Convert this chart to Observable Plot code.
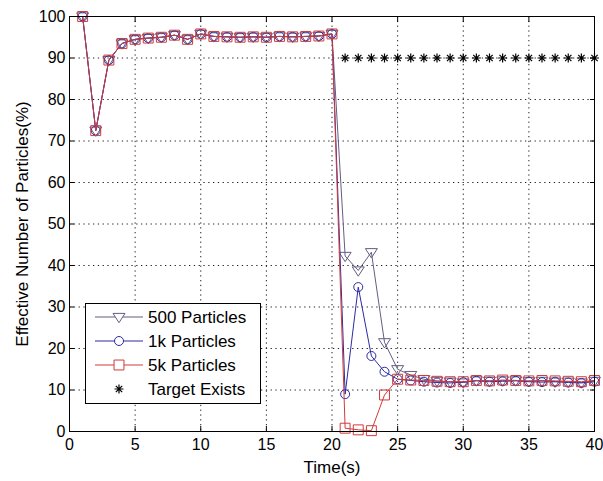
<!DOCTYPE html>
<html>
<head>
<meta charset="utf-8">
<script src="https://cdn.jsdelivr.net/npm/d3@7"></script>
<script src="https://cdn.jsdelivr.net/npm/@observablehq/plot@0.6"></script>
<style>
  html, body { margin: 0; padding: 0; background: #fff; }
  #wrap { position: relative; width: 603px; height: 481px; font-family: "Liberation Sans", Arial, sans-serif; }
  #legend { position: absolute; left: 85px; top: 303px; }
</style>
</head>
<body>
<div id="wrap"></div>
<script>
// ---- data ----
const time = [1,2,3,4,5,6,7,8,9,10,11,12,13,14,15,16,17,18,19,20,
              21,22,23,24,25,26,27,28,29,30,31,32,33,34,35,36,37,38,39,40];
const p500 = [100,72.5,89.5,93.5,94.5,94.8,95,95.5,94.5,95.8,95.2,95.1,95,95.1,95,95.2,95.1,95.2,95.3,95.8,
              42.3,38.8,43.2,21.5,15,13.6,12.6,12.2,12.0,11.8,12.3,12.2,12.3,12.3,12.1,12.2,12.0,12.0,11.8,12.2];
const p1k  = [100,72.5,89.5,93.5,94.5,94.8,95,95.5,94.5,95.8,95.2,95.1,95,95.1,95,95.2,95.1,95.2,95.3,95.8,
              9.0,34.8,18.2,14.4,12.6,12.3,12.0,11.8,11.7,11.9,12.2,12.0,12.1,12.2,12.0,11.9,12.0,11.8,11.7,12.0];
const p5k  = [100,72.5,89.5,93.5,94.5,94.8,95,95.5,94.5,95.8,95.2,95.1,95,95.1,95,95.2,95.1,95.2,95.3,95.8,
              0.8,0.4,0.2,8.8,12.6,12.4,12.3,12.1,12.0,12.0,12.3,12.2,12.4,12.3,12.2,12.3,12.2,12.1,12.0,12.3];
const targetTime = [21,22,23,24,25,26,27,28,29,30,31,32,33,34,35,36,37,38,39,40];
const targetValue = 90;
const seriesNames = ["500 Particles", "1k Particles", "5k Particles", "Target Exists"];
const xTicks = [0,5,10,15,20,25,30,35,40];
const yTicks = [0,10,20,30,40,50,60,70,80,90,100];
const xLabel = "Time(s)";
const yLabel = "Effective Number of Particles(%)";

// ---- styles ----
const c500 = "#655d80", c1k = "#2b2ba6", c5k = "#d23a3a";

const triDown = { draw(ctx, size) { const r = Math.sqrt(size / Math.PI);
  ctx.moveTo(-r, -0.6 * r); ctx.lineTo(r, -0.6 * r); ctx.lineTo(0, 0.95 * r); ctx.closePath(); } };
const star8 = { draw(ctx, size) { const r = Math.sqrt(size / Math.PI);
  for (let k = 0; k < 4; k++) { const a = k * Math.PI / 4;
    ctx.moveTo(-r * Math.cos(a), -r * Math.sin(a)); ctx.lineTo(r * Math.cos(a), r * Math.sin(a)); } } };

const rows = (vals) => time.map((t, i) => ({t, v: vals[i]}));
const d500 = rows(p500), d1k = rows(p1k), d5k = rows(p5k);
const dTarget = targetTime.map(t => ({t, v: targetValue}));

const chart = Plot.plot({
  width: 603, height: 481,
  marginLeft: 69, marginRight: 9, marginTop: 16, marginBottom: 50,
  style: {fontFamily: "'Liberation Sans', Arial, sans-serif", fontSize: "16px", background: "white", color: "black"},
  x: {domain: [0, 40]},
  y: {domain: [0, 100]},
  marks: [
    Plot.gridX(xTicks, {stroke: "#222", strokeOpacity: 1, strokeDasharray: "1.3,3.5"}),
    Plot.gridY(yTicks, {stroke: "#222", strokeOpacity: 1, strokeDasharray: "1.3,3.5"}),
    Plot.line(d500, {x: "t", y: "v", stroke: c500, strokeWidth: 1}),
    Plot.dot(d500, {x: "t", y: "v", symbol: triDown, r: 6, stroke: c500, fill: "none", strokeWidth: 1}),
    Plot.line(d1k, {x: "t", y: "v", stroke: c1k, strokeWidth: 1}),
    Plot.dot(d1k, {x: "t", y: "v", symbol: "circle", r: 4.5, stroke: c1k, fill: "none", strokeWidth: 1}),
    Plot.line(d5k, {x: "t", y: "v", stroke: c5k, strokeWidth: 1}),
    Plot.dot(d5k, {x: "t", y: "v", symbol: "square", r: 5.6, stroke: c5k, fill: "none", strokeWidth: 1}),
    Plot.dot(dTarget, {x: "t", y: "v", symbol: star8, r: 4.5, stroke: "black", strokeWidth: 1.2}),
    Plot.frame({stroke: "black"}),
    Plot.axisX(xTicks, {tickSize: -5, tickPadding: 12, label: null}),
    Plot.axisX(xTicks, {anchor: "top", tickSize: -5, tickFormat: () => "", label: null}),
    Plot.axisY(yTicks, {tickSize: -5, tickPadding: 9, label: null}),
    Plot.axisY(yTicks, {anchor: "right", tickSize: -5, tickFormat: () => "", label: null}),
    Plot.text([xLabel], {text: d => d, frameAnchor: "bottom", lineAnchor: "middle", textAnchor: "middle", dy: 36, fill: "black", fontSize: 17}),
    Plot.text([yLabel], {text: d => d, frameAnchor: "left", lineAnchor: "middle", textAnchor: "middle", rotate: -90, dx: -47, fill: "black", fontSize: 17})
  ]
});
const wrap = document.getElementById("wrap");
wrap.appendChild(chart);

// ---- legend ----
const lg = d3.select(wrap).append("svg").attr("id", "legend")
  .attr("width", 176).attr("height", 101);
lg.append("rect").attr("x", 0.5).attr("y", 0.5).attr("width", 175).attr("height", 100)
  .attr("fill", "white").attr("stroke", "black");
const legendColors = [c500, c1k, c5k, "black"];
const legendSymbols = [[triDown, 6 * 6 * Math.PI], [d3.symbolCircle, 4.5 * 4.5 * Math.PI], [d3.symbolSquare, 5.6 * 5.6 * Math.PI], [star8, 4.5 * 4.5 * Math.PI]];
seriesNames.forEach((name, i) => {
  const y = 14 + i * 24;
  const g = lg.append("g").attr("transform", `translate(0,${y})`);
  if (i < 3) g.append("line").attr("x1", 10).attr("x2", 58).attr("y1", 0).attr("y2", 0)
    .attr("stroke", legendColors[i]);
  g.append("path").attr("transform", "translate(34,0)")
    .attr("d", d3.symbol(legendSymbols[i][0], legendSymbols[i][1])())
    .attr("fill", i < 3 ? "white" : "none").attr("stroke", legendColors[i]).attr("stroke-width", i === 3 ? 1.2 : 1);
  g.append("text").attr("x", 63).attr("y", 0).attr("dy", "0.36em")
    .attr("font-size", 17).attr("font-family", "'Liberation Sans', Arial, sans-serif")
    .attr("fill", "black").text(name);
});
</script>
</body>
</html>
